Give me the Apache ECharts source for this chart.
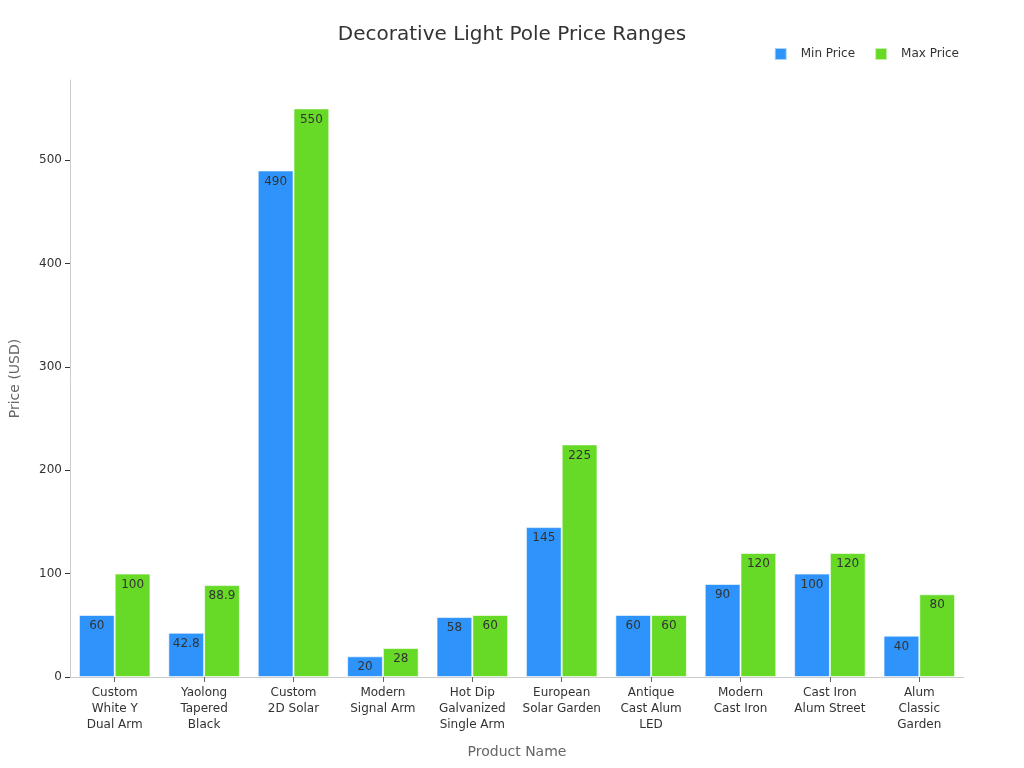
<!DOCTYPE html>
<html><head><meta charset="utf-8">
<script src="https://cdn.jsdelivr.net/npm/echarts@6/dist/echarts.min.js"></script>
<style>html,body{margin:0;padding:0;background:#fff}#c{width:1024px;height:768px}</style>
</head><body><div id="c"></div>
<script>
const categories = ["Custom\nWhite Y\nDual Arm","Yaolong\nTapered\nBlack","Custom\n2D Solar","Modern\nSignal Arm","Hot Dip\nGalvanized\nSingle Arm","European\nSolar Garden","Antique\nCast Alum\nLED","Modern\nCast Iron","Cast Iron\nAlum Street","Alum\nClassic\nGarden"];
const minPrice = [60,42.8,490,20,58,145,60,90,100,40];
const maxPrice = [100,88.9,550,28,60,225,60,120,120,80];
const yTicks = [0,100,200,300,400,500];

const font = "DejaVu Sans";
const chart = echarts.init(document.getElementById('c'));
const lbl = {show:true, position:'insideTop', color:'#333', fontSize:12, fontFamily:font, distance:5};
chart.setOption({
  animation:false,
  textStyle:{fontFamily:font},
  title:{text:'Decorative Light Pole Price Ranges', left:'center', top:20, textStyle:{fontSize:20, fontWeight:'normal', color:'#333', fontFamily:font}},
  legend:{right:60, top:42, itemWidth:12, itemHeight:12, itemGap:19, icon:'rect', textStyle:{fontSize:12, color:'#333', fontFamily:font, padding:[0,0,0,9]}, data:['Min Price','Max Price']},
  grid:{left:68, right:60, top:80, bottom:91},
  xAxis:{type:'category', data:categories, name:'Product Name', nameLocation:'middle', nameGap:68,
    nameTextStyle:{fontSize:14, color:'#666', fontFamily:font},
    axisLine:{lineStyle:{color:'#ccc'}}, axisTick:{show:true, alignWithLabel:true, lineStyle:{color:'#666'}},
    axisLabel:{color:'#333', fontSize:12, fontFamily:font, interval:0, lineHeight:16, margin:8}},
  yAxis:{type:'value', min:0, max:577.5, interval:100, name:'Price (USD)', nameLocation:'middle', nameGap:48,
    nameTextStyle:{fontSize:14, color:'#666', fontFamily:font},
    axisLine:{show:true, lineStyle:{color:'#ccc'}}, axisTick:{show:true, lineStyle:{color:'#333'}},
    axisLabel:{color:'#333', fontSize:12, fontFamily:font, showMaxLabel:false}, splitLine:{show:false}},
  series:[
    {name:'Min Price', type:'bar', data:minPrice, barGap:'0%', barCategoryGap:'20%', itemStyle:{color:'#2E93FA', borderColor:'rgba(255,255,255,0.6)', borderWidth:1}, label:lbl},
    {name:'Max Price', type:'bar', data:maxPrice, itemStyle:{color:'#66DA26', borderColor:'rgba(255,255,255,0.6)', borderWidth:1}, label:lbl}
  ]
});
</script></body></html>
